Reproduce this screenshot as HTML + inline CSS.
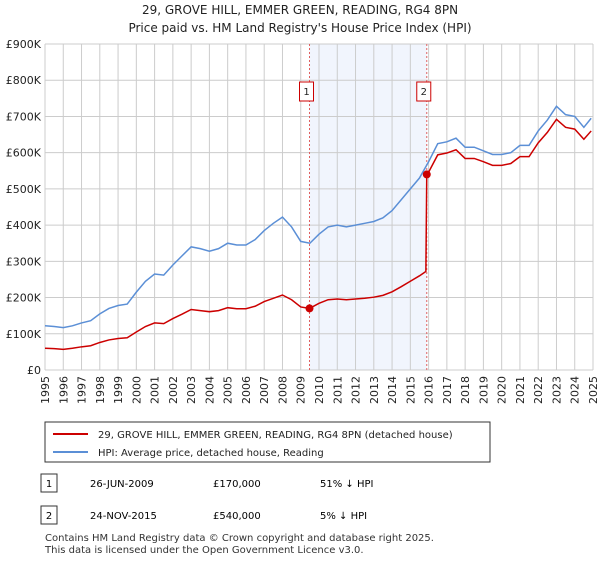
<!DOCTYPE html>
<html><head><meta charset="utf-8"><style>
body{margin:0;background:#fff;font-family:"Liberation Sans","DejaVu Sans",sans-serif;}
svg text{font-family:"DejaVu Sans","Liberation Sans",sans-serif;}
</style></head><body>
<svg id="c" width="600" height="560" xmlns="http://www.w3.org/2000/svg">
<text x="300" y="14" text-anchor="middle" font-size="12" fill="#222">29, GROVE HILL, EMMER GREEN, READING, RG4 8PN</text>
<text x="300" y="32" text-anchor="middle" font-size="12" fill="#222">Price paid vs. HM Land Registry's House Price Index (HPI)</text>
<g id="grid"></g><g id="marks"></g>
<rect x="45" y="422" width="445" height="40" fill="#fff" stroke="#333"/>
<line x1="53" y1="434" x2="88" y2="434" stroke="#cc0000" stroke-width="2"/>
<text x="98" y="438" font-size="10" fill="#222">29, GROVE HILL, EMMER GREEN, READING, RG4 8PN (detached house)</text>
<line x1="53" y1="452" x2="88" y2="452" stroke="#5b8fd6" stroke-width="2"/>
<text x="98" y="456" font-size="10" fill="#222">HPI: Average price, detached house, Reading</text>
<rect x="41" y="474" width="16" height="18" fill="#fff" stroke="#333"/>
<text x="49" y="487" text-anchor="middle" font-size="10">1</text>
<text x="90" y="487" font-size="10">26-JUN-2009</text>
<text x="213" y="487" font-size="10">£170,000</text>
<text x="320" y="487" font-size="10">51% ↓ HPI</text>
<rect x="41" y="506" width="16" height="18" fill="#fff" stroke="#333"/>
<text x="49" y="519" text-anchor="middle" font-size="10">2</text>
<text x="90" y="519" font-size="10">24-NOV-2015</text>
<text x="213" y="519" font-size="10">£540,000</text>
<text x="320" y="519" font-size="10">5% ↓ HPI</text>
<text x="45" y="541" font-size="10" fill="#333">Contains HM Land Registry data © Crown copyright and database right 2025.</text>
<text x="45" y="553" font-size="10" fill="#333">This data is licensed under the Open Government Licence v3.0.</text>
</svg>
<script>
const hpiDates=[1995,1995.5,1996,1996.5,1997,1997.5,1998,1998.5,1999,1999.5,2000,2000.5,2001,2001.5,2002,2002.5,2003,2003.5,2004,2004.5,2005,2005.5,2006,2006.5,2007,2007.5,2008,2008.5,2009,2009.5,2010,2010.5,2011,2011.5,2012,2012.5,2013,2013.5,2014,2014.5,2015,2015.5,2016,2016.5,2017,2017.5,2018,2018.5,2019,2019.5,2020,2020.5,2021,2021.5,2022,2022.5,2023,2023.5,2024,2024.5,2024.9];
const hpiValues=[122,120,117,122,130,136,155,170,178,182,215,245,265,262,290,315,340,335,328,335,350,345,345,360,385,405,422,395,355,350,375,395,400,395,400,405,410,420,440,470,500,530,575,625,630,640,615,615,605,595,595,600,620,620,660,690,728,705,700,670,695];
const priceDates=[1995,1995.5,1996,1996.5,1997,1997.5,1998,1998.5,1999,1999.5,2000,2000.5,2001,2001.5,2002,2002.5,2003,2003.5,2004,2004.5,2005,2005.5,2006,2006.5,2007,2007.5,2008,2008.5,2009,2009.48,2010,2010.5,2011,2011.5,2012,2012.5,2013,2013.5,2014,2014.5,2015,2015.5,2015.85,2015.9,2016,2016.5,2017,2017.5,2018,2018.5,2019,2019.5,2020,2020.5,2021,2021.5,2022,2022.5,2023,2023.5,2024,2024.5,2024.9];
const priceValues=[60,59,57,60,64,67,76,83,87,89,105,120,130,128,142,154,167,164,161,164,172,169,169,176,189,198,207,194,174,170,184,194,196,194,196,198,201,206,216,230,245,260,272,540,546,594,599,608,584,584,575,565,565,570,589,589,627,656,692,670,665,637,660];
const saleDates=[2009.48,2015.9];
const saleValues=[170,540];
const saleLabels=["1","2"];
const yTicks=[0,100,200,300,400,500,600,700,800,900];
const yTickLabels=["£0","£100K","£200K","£300K","£400K","£500K","£600K","£700K","£800K","£900K"];
const xTicks=[1995,1996,1997,1998,1999,2000,2001,2002,2003,2004,2005,2006,2007,2008,2009,2010,2011,2012,2013,2014,2015,2016,2017,2018,2019,2020,2021,2022,2023,2024,2025];

const NS="http://www.w3.org/2000/svg";
const X0=45,X1=593,Y0=370,Y1=44;
const xs=d=>X0+(d-1995)/30*(X1-X0);
const ys=v=>Y0-v/900*(Y0-Y1);
function mk(tag,attrs,parent){const e=document.createElementNS(NS,tag);for(const k in attrs)e.setAttribute(k,attrs[k]);parent.appendChild(e);return e;}
const grid=document.getElementById('grid'),marks=document.getElementById('marks');
const shade=mk('rect',{x:xs(saleDates[0]),y:Y1,width:xs(saleDates[1])-xs(saleDates[0]),height:Y0-Y1,fill:'#eef3fc',opacity:0.8},grid);


yTicks.forEach((t,i)=>{
 const l=mk('line',{x1:X0,x2:X1,y1:ys(t),y2:ys(t),stroke:'#cccccc'},grid);
 
 
 const tx=mk('text',{x:41,y:ys(t)+4,'text-anchor':'end','font-size':11,fill:'#222'},grid);
 tx.textContent=yTickLabels[i];
 
 
});
xTicks.forEach(t=>{
 const l=mk('line',{x1:xs(t),x2:xs(t),y1:Y1,y2:Y0,stroke:'#cccccc'},grid);
 
 
 const tx=mk('text',{x:0,y:0,'text-anchor':'end','font-size':11,fill:'#222',transform:`translate(${xs(t)+4},${Y0+6}) rotate(-90)`},grid);
 tx.textContent=t;
 
 
});
saleDates.forEach((d,i)=>{
 const l=mk('line',{x1:xs(d),x2:xs(d),y1:Y1,y2:Y0,stroke:'#e06060','stroke-dasharray':'2,2'},marks);
 
 
});
const hp=mk('polyline',{points:hpiDates.map((d,i)=>xs(d)+','+ys(hpiValues[i])).join(' '),fill:'none',stroke:'#5b8fd6','stroke-width':1.5},marks);


const pp=mk('polyline',{points:priceDates.map((d,i)=>xs(d)+','+ys(priceValues[i])).join(' '),fill:'none',stroke:'#cc0000','stroke-width':1.5},marks);


saleDates.forEach((d,i)=>{
 const c=mk('circle',{cx:xs(d),cy:ys(saleValues[i]),r:4,fill:'#cc0000'},marks);
 
 
 const b=mk('rect',{x:xs(d)-10,y:82,width:14,height:19,fill:'#fff',stroke:'#cc0000'},marks);
 
 
 const t=mk('text',{x:xs(d)-3,y:95,'text-anchor':'middle','font-size':10,fill:'#222'},marks);
 t.textContent=saleLabels[i];
 
 
});
</script>
</body></html>
